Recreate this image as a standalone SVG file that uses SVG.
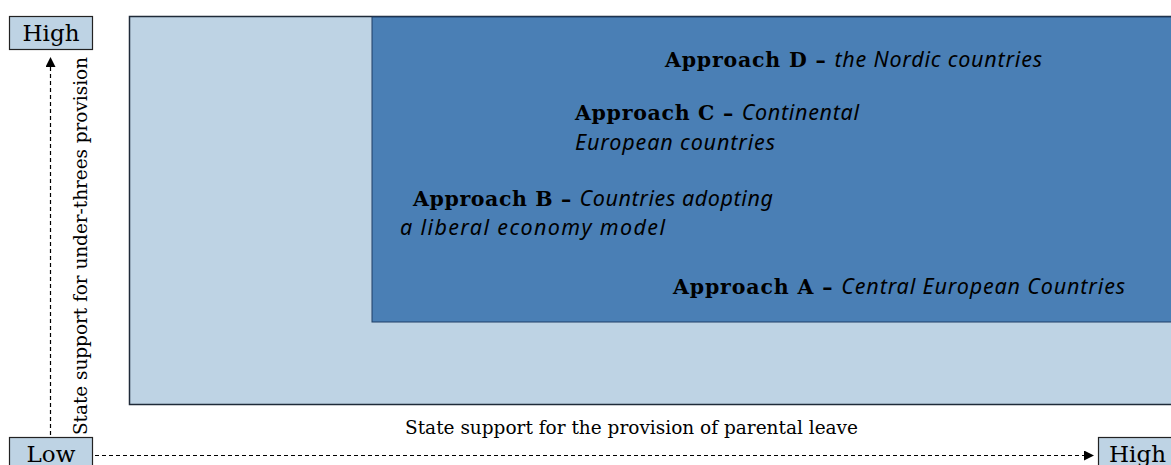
<svg xmlns="http://www.w3.org/2000/svg" width="1171" height="465" viewBox="0 0 1171 465">
<defs>
<marker id="ah" viewBox="0 0 10 10" refX="10" refY="5" markerWidth="10" markerHeight="10" markerUnits="userSpaceOnUse" orient="auto">
<path d="M0,0 L10,5 L0,10 Z" fill="#000"/>
</marker>
<style>
.lbl{font-family:"DejaVu Serif","Liberation Serif",serif;font-size:23px;fill:#000}
.ax{font-family:"DejaVu Serif","Liberation Serif",serif;font-size:18.5px;fill:#000}
.b{font-family:"DejaVu Serif","Liberation Serif",serif;font-weight:bold;font-size:20.5px;fill:#000}
.i{font-family:"Noto Sans","Open Sans",sans-serif;font-style:italic;font-weight:normal;font-size:21.5px}
.box{fill:#bed3e4;stroke:#222;stroke-width:1.2}
.dash{stroke:#000;stroke-width:1.2;stroke-dasharray:4,3;fill:none}
</style>
</defs>
<g id="outer"><rect x="129.5" y="16.5" width="1050" height="388" fill="#bed3e4" stroke="#1f2a38" stroke-width="1.5"/></g>
<g id="inner"><rect x="372" y="17" width="805" height="305" fill="#4a7fb5" stroke="#1f3f66" stroke-width="1"/></g>
<g id="approachD"><text x="665" y="67" class="b" textLength="377">Approach D – <tspan class="i">the Nordic countries</tspan></text></g>
<g id="approachC"><text x="575" y="120" class="b" textLength="284">Approach C – <tspan class="i">Continental</tspan></text><text x="575" y="150" class="b"><tspan class="i" textLength="200">European countries</tspan></text></g>
<g id="approachB"><text x="413" y="206" class="b" textLength="360">Approach B – <tspan class="i">Countries adopting</tspan></text><text x="400" y="235" class="b"><tspan class="i" textLength="265">a liberal economy model</tspan></text></g>
<g id="approachA"><text x="673" y="294" class="b" textLength="452">Approach A – <tspan class="i">Central European Countries</tspan></text></g>
<g id="highY"><rect x="9.5" y="16.5" width="83" height="33" class="box"/><text x="51" y="41" text-anchor="middle" class="lbl">High</text></g>
<g id="lowX"><rect x="9.5" y="437.5" width="83" height="33" class="box"/><text x="51" y="462" text-anchor="middle" class="lbl">Low</text></g>
<g id="highX"><rect x="1098.5" y="437.5" width="80" height="33" class="box"/><text x="1109" y="462" class="lbl">High</text></g>
<g id="connectors">
<line x1="50.5" y1="435" x2="50.5" y2="57" class="dash" marker-end="url(#ah)"/>
<line x1="95" y1="455.5" x2="1094" y2="455.5" class="dash" marker-end="url(#ah)"/>
</g>
<g id="axisLabels">
<text x="405" y="434" class="ax" textLength="453">State support for the provision of parental leave</text>
<text transform="translate(87,435) rotate(-90)" class="ax" textLength="378">State support for under-threes provision</text>
</g>
</svg>
